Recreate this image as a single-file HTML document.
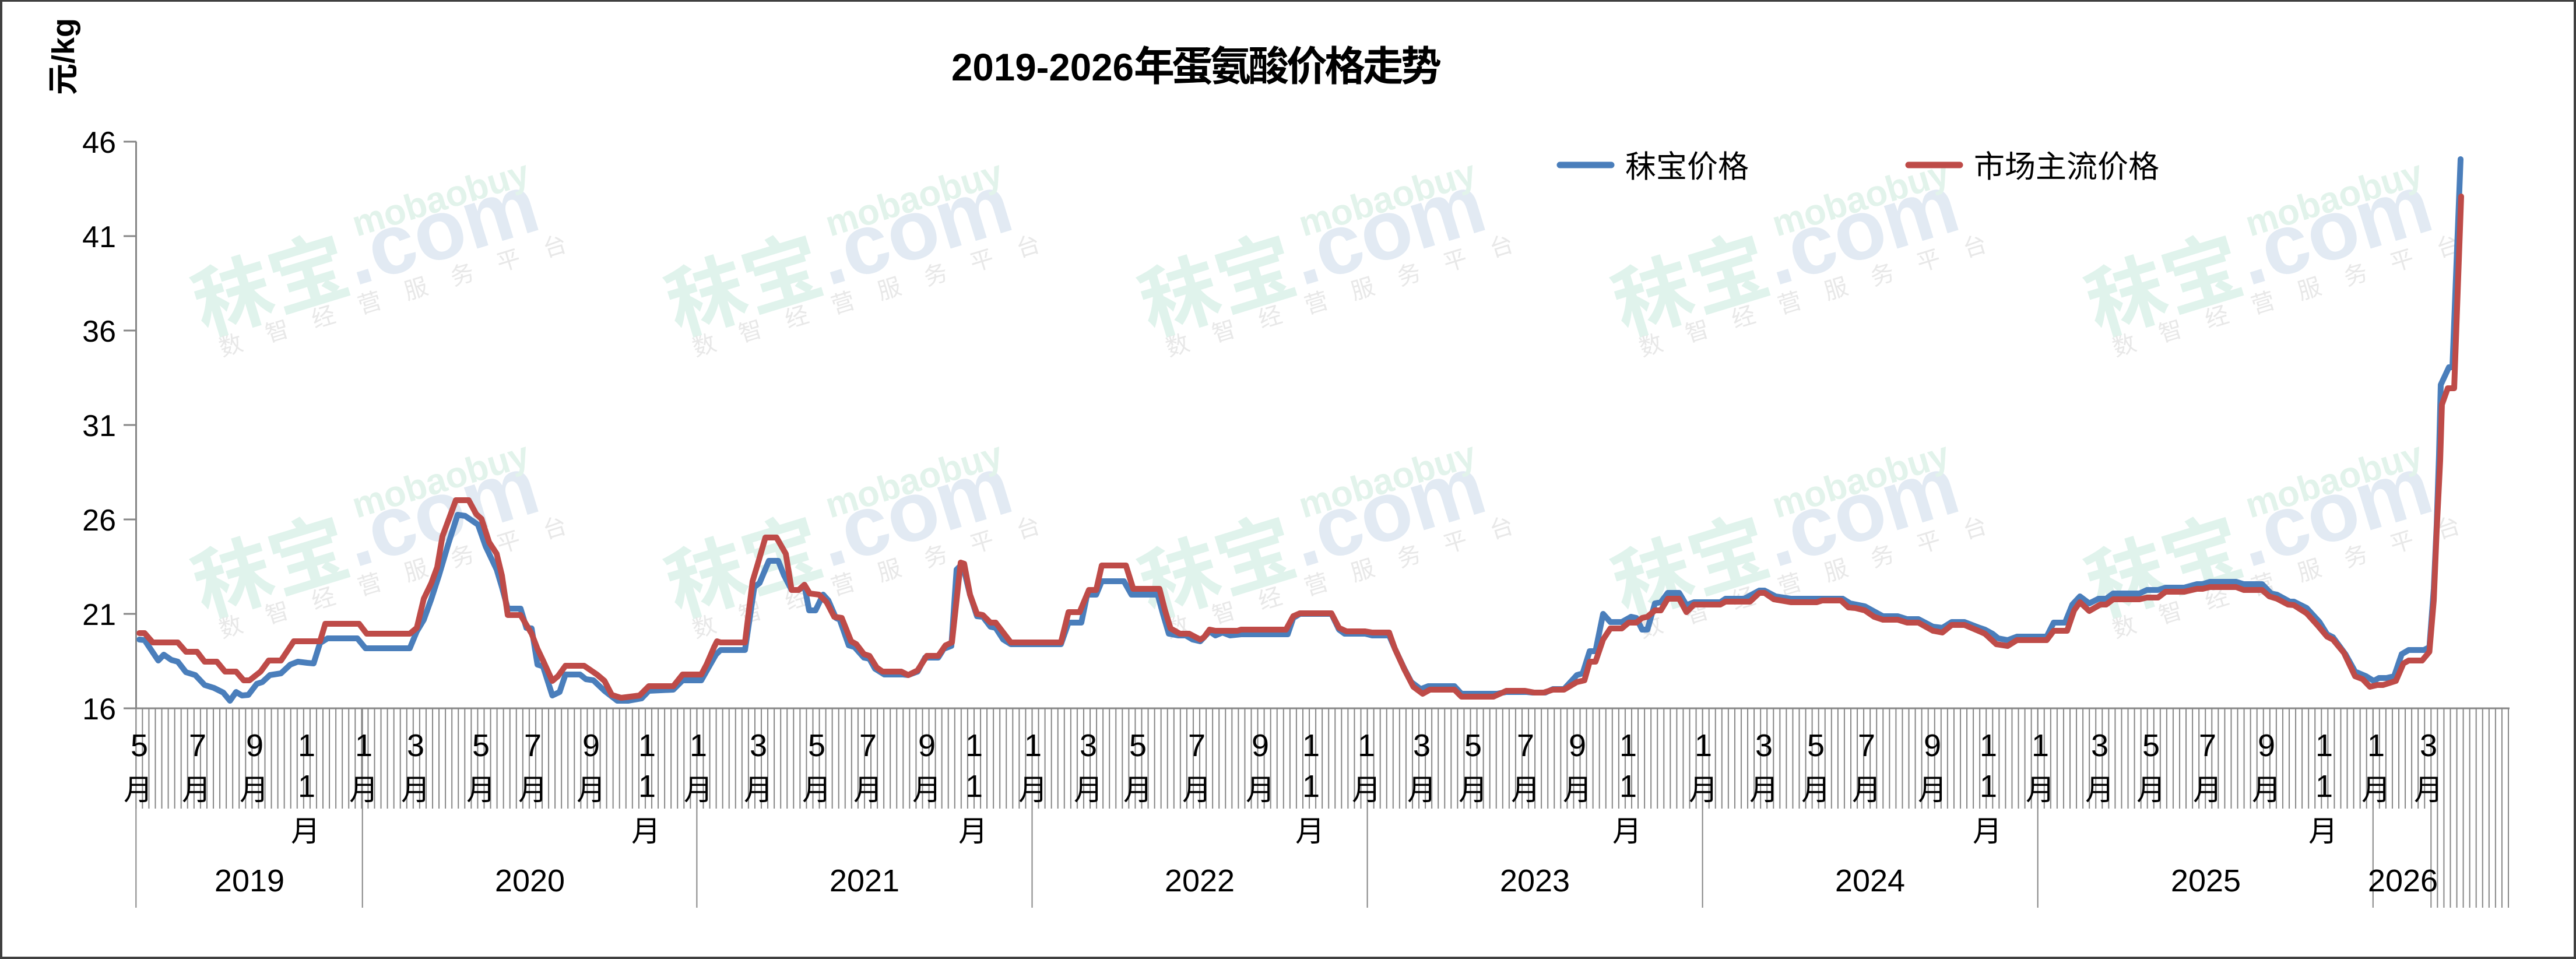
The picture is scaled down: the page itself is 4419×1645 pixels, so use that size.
<!DOCTYPE html>
<html><head><meta charset="utf-8"><style>
html,body{margin:0;padding:0;background:#fff;}
svg{display:block;}
</style></head><body>
<svg xmlns="http://www.w3.org/2000/svg" width="4419" height="1645" viewBox="0 0 4419 1645">
<defs>
<pattern id="h" x="232.3" y="0" width="11.059" height="10" patternUnits="userSpaceOnUse"><rect x="0" y="0" width="2" height="10" fill="#868686"/></pattern>
</defs>
<rect x="0" y="0" width="4419" height="1645" fill="#fff"/>
<!-- watermarks -->
<g font-family="'Liberation Sans','Noto Sans CJK SC',sans-serif">
<g transform="translate(350,575) rotate(-17)"><text x="0" y="0" font-size="135" font-weight="bold" fill="#e0f3ec">秣宝</text><text x="272" y="-5" font-size="145" font-weight="bold" fill="#e2eaf3">.com</text><text x="300" y="-85" font-size="62" font-weight="bold" fill="#e2f3eb">mobaobuy</text><text x="19" y="44" font-size="40" letter-spacing="43" fill="#e8e8e8">数智经营服务平台</text></g>
<g transform="translate(1162,575) rotate(-17)"><text x="0" y="0" font-size="135" font-weight="bold" fill="#e0f3ec">秣宝</text><text x="272" y="-5" font-size="145" font-weight="bold" fill="#e2eaf3">.com</text><text x="300" y="-85" font-size="62" font-weight="bold" fill="#e2f3eb">mobaobuy</text><text x="19" y="44" font-size="40" letter-spacing="43" fill="#e8e8e8">数智经营服务平台</text></g>
<g transform="translate(1974,575) rotate(-17)"><text x="0" y="0" font-size="135" font-weight="bold" fill="#e0f3ec">秣宝</text><text x="272" y="-5" font-size="145" font-weight="bold" fill="#e2eaf3">.com</text><text x="300" y="-85" font-size="62" font-weight="bold" fill="#e2f3eb">mobaobuy</text><text x="19" y="44" font-size="40" letter-spacing="43" fill="#e8e8e8">数智经营服务平台</text></g>
<g transform="translate(2786,575) rotate(-17)"><text x="0" y="0" font-size="135" font-weight="bold" fill="#e0f3ec">秣宝</text><text x="272" y="-5" font-size="145" font-weight="bold" fill="#e2eaf3">.com</text><text x="300" y="-85" font-size="62" font-weight="bold" fill="#e2f3eb">mobaobuy</text><text x="19" y="44" font-size="40" letter-spacing="43" fill="#e8e8e8">数智经营服务平台</text></g>
<g transform="translate(3598,575) rotate(-17)"><text x="0" y="0" font-size="135" font-weight="bold" fill="#e0f3ec">秣宝</text><text x="272" y="-5" font-size="145" font-weight="bold" fill="#e2eaf3">.com</text><text x="300" y="-85" font-size="62" font-weight="bold" fill="#e2f3eb">mobaobuy</text><text x="19" y="44" font-size="40" letter-spacing="43" fill="#e8e8e8">数智经营服务平台</text></g>
<g transform="translate(350,1058) rotate(-17)"><text x="0" y="0" font-size="135" font-weight="bold" fill="#e0f3ec">秣宝</text><text x="272" y="-5" font-size="145" font-weight="bold" fill="#e2eaf3">.com</text><text x="300" y="-85" font-size="62" font-weight="bold" fill="#e2f3eb">mobaobuy</text><text x="19" y="44" font-size="40" letter-spacing="43" fill="#e8e8e8">数智经营服务平台</text></g>
<g transform="translate(1162,1058) rotate(-17)"><text x="0" y="0" font-size="135" font-weight="bold" fill="#e0f3ec">秣宝</text><text x="272" y="-5" font-size="145" font-weight="bold" fill="#e2eaf3">.com</text><text x="300" y="-85" font-size="62" font-weight="bold" fill="#e2f3eb">mobaobuy</text><text x="19" y="44" font-size="40" letter-spacing="43" fill="#e8e8e8">数智经营服务平台</text></g>
<g transform="translate(1974,1058) rotate(-17)"><text x="0" y="0" font-size="135" font-weight="bold" fill="#e0f3ec">秣宝</text><text x="272" y="-5" font-size="145" font-weight="bold" fill="#e2eaf3">.com</text><text x="300" y="-85" font-size="62" font-weight="bold" fill="#e2f3eb">mobaobuy</text><text x="19" y="44" font-size="40" letter-spacing="43" fill="#e8e8e8">数智经营服务平台</text></g>
<g transform="translate(2786,1058) rotate(-17)"><text x="0" y="0" font-size="135" font-weight="bold" fill="#e0f3ec">秣宝</text><text x="272" y="-5" font-size="145" font-weight="bold" fill="#e2eaf3">.com</text><text x="300" y="-85" font-size="62" font-weight="bold" fill="#e2f3eb">mobaobuy</text><text x="19" y="44" font-size="40" letter-spacing="43" fill="#e8e8e8">数智经营服务平台</text></g>
<g transform="translate(3598,1058) rotate(-17)"><text x="0" y="0" font-size="135" font-weight="bold" fill="#e0f3ec">秣宝</text><text x="272" y="-5" font-size="145" font-weight="bold" fill="#e2eaf3">.com</text><text x="300" y="-85" font-size="62" font-weight="bold" fill="#e2f3eb">mobaobuy</text><text x="19" y="44" font-size="40" letter-spacing="43" fill="#e8e8e8">数智经营服务平台</text></g>
</g>

<!-- title -->
<text x="1632" y="138" font-family="'Liberation Sans','Noto Sans CJK SC',sans-serif" font-weight="bold" fill="#000"><tspan font-size="66" textLength="313" lengthAdjust="spacingAndGlyphs">2019-2026</tspan><tspan font-family="'Noto Sans CJK SC',sans-serif" font-size="70" textLength="528" lengthAdjust="spacing">年蛋氨酸价格走势</tspan></text>

<!-- y axis title -->
<text transform="translate(127,163) rotate(-90)" x="0" y="0" font-family="'Liberation Sans','Noto Sans CJK SC',sans-serif" font-weight="bold" font-size="54" fill="#000">元/kg</text>

<!-- y axis -->
<g stroke="#868686" fill="none">
<line x1="233.5" y1="243" x2="233.5" y2="1215" stroke-width="3"/>
<line x1="212" y1="243" x2="234" y2="243" stroke-width="3"/>
<line x1="212" y1="405" x2="234" y2="405" stroke-width="3"/>
<line x1="212" y1="567" x2="234" y2="567" stroke-width="3"/>
<line x1="212" y1="729" x2="234" y2="729" stroke-width="3"/>
<line x1="212" y1="891" x2="234" y2="891" stroke-width="3"/>
<line x1="212" y1="1053" x2="234" y2="1053" stroke-width="3"/>
</g>
<g font-family="'Liberation Sans',sans-serif" font-size="52" fill="#000" text-anchor="end">
<text x="199" y="262">46</text>
<text x="199" y="424">41</text>
<text x="199" y="586">36</text>
<text x="199" y="748">31</text>
<text x="199" y="910">26</text>
<text x="199" y="1072">21</text>
<text x="199" y="1234">16</text>
</g>

<!-- x axis hatch -->
<rect x="232.3" y="1215" width="4073" height="172" fill="url(#h)"/>
<rect x="4169" y="1387" width="136.5" height="170" fill="url(#h)"/>
<g stroke="#868686" stroke-width="2">
<line x1="233.3" y1="1215" x2="233.3" y2="1557"/>
<line x1="621.7" y1="1215" x2="621.7" y2="1557"/>
<line x1="1195.4" y1="1215" x2="1195.4" y2="1557"/>
<line x1="1770.5" y1="1215" x2="1770.5" y2="1557"/>
<line x1="2345.6" y1="1215" x2="2345.6" y2="1557"/>
<line x1="2920.6" y1="1215" x2="2920.6" y2="1557"/>
<line x1="3495.7" y1="1215" x2="3495.7" y2="1557"/>
<line x1="4070.8" y1="1215" x2="4070.8" y2="1557"/>
</g>
<line x1="212" y1="1215" x2="4305" y2="1215" stroke="#868686" stroke-width="3"/>

<!-- month labels -->
<g font-family="'Liberation Sans',sans-serif" font-size="54" fill="#000" text-anchor="middle">
<text x="239" y="1297">5</text><text x="339" y="1297">7</text><text x="437" y="1297">9</text><text x="526" y="1297">1</text><text x="526" y="1367">1</text>
<text x="624" y="1297">1</text><text x="713" y="1297">3</text><text x="825" y="1297">5</text><text x="914" y="1297">7</text><text x="1014" y="1297">9</text><text x="1110" y="1297">1</text><text x="1110" y="1367">1</text>
<text x="1198" y="1297">1</text><text x="1301" y="1297">3</text><text x="1401" y="1297">5</text><text x="1489" y="1297">7</text><text x="1590" y="1297">9</text><text x="1671" y="1297">1</text><text x="1671" y="1367">1</text>
<text x="1772" y="1297">1</text><text x="1867" y="1297">3</text><text x="1952" y="1297">5</text><text x="2053" y="1297">7</text><text x="2162" y="1297">9</text><text x="2249" y="1297">1</text><text x="2249" y="1367">1</text>
<text x="2344" y="1297">1</text><text x="2439" y="1297">3</text><text x="2527" y="1297">5</text><text x="2617" y="1297">7</text><text x="2706" y="1297">9</text><text x="2793" y="1297">1</text><text x="2793" y="1367">1</text>
<text x="2922" y="1297">1</text><text x="3026" y="1297">3</text><text x="3115" y="1297">5</text><text x="3202" y="1297">7</text><text x="3315" y="1297">9</text><text x="3411" y="1297">1</text><text x="3411" y="1367">1</text>
<text x="3500" y="1297">1</text><text x="3602" y="1297">3</text><text x="3690" y="1297">5</text><text x="3787" y="1297">7</text><text x="3888" y="1297">9</text><text x="3987" y="1297">1</text><text x="3987" y="1367">1</text>
<text x="4076" y="1297">1</text><text x="4166" y="1297">3</text>
</g>
<g font-family="'Noto Sans CJK SC',sans-serif" font-size="50" fill="#000" text-anchor="middle">
<text x="237" y="1372">月</text><text x="337" y="1372">月</text><text x="436" y="1372">月</text><text x="524" y="1443">月</text>
<text x="624" y="1372">月</text><text x="713" y="1372">月</text><text x="825" y="1372">月</text><text x="914" y="1372">月</text><text x="1014" y="1372">月</text><text x="1108" y="1443">月</text>
<text x="1198" y="1372">月</text><text x="1301" y="1372">月</text><text x="1401" y="1372">月</text><text x="1489" y="1372">月</text><text x="1590" y="1372">月</text><text x="1669" y="1443">月</text>
<text x="1772" y="1372">月</text><text x="1867" y="1372">月</text><text x="1952" y="1372">月</text><text x="2053" y="1372">月</text><text x="2162" y="1372">月</text><text x="2247" y="1443">月</text>
<text x="2344" y="1372">月</text><text x="2439" y="1372">月</text><text x="2527" y="1372">月</text><text x="2617" y="1372">月</text><text x="2706" y="1372">月</text><text x="2791" y="1443">月</text>
<text x="2922" y="1372">月</text><text x="3026" y="1372">月</text><text x="3115" y="1372">月</text><text x="3202" y="1372">月</text><text x="3315" y="1372">月</text><text x="3409" y="1443">月</text>
<text x="3500" y="1372">月</text><text x="3602" y="1372">月</text><text x="3690" y="1372">月</text><text x="3787" y="1372">月</text><text x="3888" y="1372">月</text><text x="3985" y="1443">月</text>
<text x="4076" y="1372">月</text><text x="4166" y="1372">月</text>
</g>
<g font-family="'Liberation Sans',sans-serif" font-size="54" fill="#000" text-anchor="middle">
<text x="428" y="1529">2019</text><text x="909" y="1529">2020</text><text x="1483" y="1529">2021</text><text x="2058" y="1529">2022</text><text x="2633" y="1529">2023</text><text x="3208" y="1529">2024</text><text x="3784" y="1529">2025</text><text x="4122" y="1529">2026</text>
</g>

<!-- series -->
<polyline fill="none" stroke="#4a7ebb" stroke-width="10" stroke-linejoin="round" stroke-linecap="round" points="239,1097 248,1098 271.5,1133 281,1123 294,1132 305,1135 319,1153 335,1158 351,1175 367,1180 383,1188 394.5,1202 405,1187 415,1193 426,1192 440.5,1173 450,1170 463,1158 482,1155 498,1140 511,1135 527,1137 538,1138 549,1103 562,1095 613,1095 627,1112 703,1112 715,1083 727,1063 740,1027 753,987 769,933 785,883 798,885 820,900 833,937 852,977 861,1007 871,1044 893,1044 903,1077 912,1078 922,1140 931.5,1143 947.5,1193 960,1187 970,1157 995,1157 1005,1165 1018,1167 1037,1185 1059,1202 1078,1202 1100.5,1198 1113,1185 1155,1183 1171,1167 1203,1167 1228,1123 1236,1115 1278,1115 1294,1007 1303,1000 1319,962 1335,962 1345,987 1358,1012 1370,1012 1380,1005 1388,1047 1399,1047 1412,1020 1421,1030 1434,1060 1440.5,1063 1456,1107 1466,1110 1482,1128 1491.5,1130 1501,1147 1517,1157 1549,1157 1558,1158 1574,1152 1587,1128 1609.5,1128 1619,1113 1632,1108 1641,977 1651,967 1664,1020 1676,1057 1686,1058 1699,1075 1708,1077 1721,1097 1734,1105 1820,1105 1833,1068 1855,1068 1865,1020 1880.5,1020 1890,997 1928,997 1941,1020 1986,1020 1995,1053 2005,1087 2021,1090 2034,1090 2046,1097 2059,1100 2075,1083 2085,1090 2097,1085 2110,1090 2129,1088 2209,1088 2218.5,1060 2230,1053 2284,1053 2297,1080 2306.5,1087 2342,1087 2354,1090 2383,1090 2393,1113 2409,1147 2421,1170 2437,1182 2450,1177 2495,1177 2507,1190 2568,1190 2584,1187 2619,1187 2629,1188 2651,1188 2664,1182 2683,1182 2705,1158 2715,1155 2727,1117 2737,1117 2750,1053 2762.5,1067 2782,1067 2798,1058 2807,1060 2817,1080 2826,1080 2839,1035 2849,1033 2861,1017 2880.5,1017 2893,1038 2906,1033 2951,1033 2960,1027 2992,1027 3018,1013 3027,1013 3046,1023 3072,1027 3161,1027 3174,1035 3199,1040 3230,1057 3255.5,1057 3271.5,1062 3291,1062 3316,1075 3332,1077 3348,1067 3370,1067 3396,1077 3405,1080 3418,1087 3428,1095 3444,1098 3460,1092 3511,1092 3523,1068 3542.5,1068 3555,1037 3568,1023 3584,1035 3600,1027 3613,1027 3625,1018 3670,1018 3683,1012 3702,1012 3715,1008 3747,1008 3769,1002 3778.5,1002 3791,998 3836,998 3849,1002 3880.5,1002 3896,1018 3906,1020 3928,1032 3935,1032 3957,1043 3979,1067 3992,1088 4002,1093 4024,1123 4040,1152 4059,1160 4072,1168 4081,1163 4094,1163 4107,1160 4120,1122 4132,1115 4158,1115 4167.5,1110 4175,1010 4180,900 4184,780 4187,660 4201,630 4207,630 4221,273"/>
<polyline fill="none" stroke="#be4b48" stroke-width="10" stroke-linejoin="round" stroke-linecap="round" points="239,1086 248,1086 262,1102 305,1102 319,1118 338,1118 351,1135 372,1135 386,1152 405,1152 418,1167 428,1167 447,1152 461,1133 482,1133 504,1100 549,1100 558,1070 616,1070 629,1087 703,1087 715,1077 727,1027 740,1000 750,973 759,920 782,858 804,858 817,882 826,890 839,930 852,950 861,987 871,1055 893,1055 912,1087 922,1113 931.5,1133 947.5,1168 957,1160 970,1142 1002,1142 1024,1157 1037,1168 1049.5,1192 1065.5,1197 1097,1193 1113,1177 1155,1177 1171,1157 1203,1157 1212,1140 1225,1110 1230,1100 1236,1102 1278,1102 1291,997 1300,967 1313,922 1332,922 1348,950 1358,1012 1370,1012 1380,1003 1389,1018 1405,1020 1418,1033 1431,1058 1444,1060 1460,1100 1469,1105 1482,1122 1491.5,1125 1504,1145 1514,1152 1546,1152 1558,1158 1574,1150 1590,1125 1609.5,1125 1622,1107 1633,1102 1648,965 1654,967 1664,1020 1676,1053 1686,1055 1699,1068 1708,1068 1734,1102 1820,1102 1833,1050 1852,1050 1868,1012 1880.5,1012 1890,970 1931.5,970 1944,1010 1989,1010 1998.5,1047 2008,1078 2024,1087 2040,1087 2059,1097 2065.5,1093 2075,1080 2085,1082 2123,1082 2129,1080 2206,1080 2218.5,1057 2230,1052 2284,1052 2297,1077 2310,1083 2342,1083 2354,1085 2383,1085 2393,1113 2409,1148 2424.5,1178 2440.5,1190 2453,1183 2495,1183 2507,1195 2562,1195 2584,1185 2616,1185 2632,1188 2648,1188 2664,1183 2683,1183 2705,1170 2718,1167 2727,1135 2737,1135 2750,1097 2762.5,1078 2782,1078 2794,1068 2807,1068 2817,1060 2826,1058 2839,1047 2849,1047 2861,1027 2880.5,1027 2893,1050 2906,1037 2951,1037 2960,1032 3002,1032 3018,1017 3027,1017 3043,1028 3072,1033 3116.5,1033 3126,1030 3158,1030 3171,1042 3183,1043 3199,1047 3215,1058 3230,1063 3255.5,1063 3271.5,1068 3291,1068 3316,1082 3332,1085 3348,1072 3370,1072 3396,1083 3405,1087 3424.5,1105 3444,1108 3460,1098 3511,1098 3523,1082 3546,1082 3558,1047 3568,1033 3584,1048 3603,1037 3613,1037 3625,1028 3670,1028 3683,1025 3702,1025 3715,1015 3747,1015 3769,1010 3778.5,1010 3791,1007 3836,1007 3849,1012 3880.5,1012 3893,1023 3906,1027 3925,1037 3935,1038 3957,1052 3976,1073 3992,1092 4002,1097 4021,1120 4040,1160 4053,1165 4065.5,1178 4078,1175 4088,1175 4110,1168 4123,1138 4132,1133 4155,1133 4167.5,1118 4175,1030 4180,910 4186,790 4189,694 4199,666 4210,666 4222,337"/>

<!-- legend -->
<line x1="2676" y1="283" x2="2764" y2="283" stroke="#4a7ebb" stroke-width="11" stroke-linecap="round"/>
<text x="2788" y="304" font-family="'Noto Sans CJK SC',sans-serif" font-size="53" fill="#000">秣宝价格</text>
<line x1="3274" y1="283" x2="3362" y2="283" stroke="#be4b48" stroke-width="11" stroke-linecap="round"/>
<text x="3386" y="304" font-family="'Noto Sans CJK SC',sans-serif" font-size="53" fill="#000">市场主流价格</text>

<!-- border -->
<rect x="0" y="0" width="4419" height="3" fill="#404040"/>
<rect x="0" y="0" width="4" height="1645" fill="#404040"/>
<rect x="4415" y="0" width="4" height="1645" fill="#404040"/>
<rect x="0" y="1641" width="4419" height="4" fill="#404040"/>
</svg>
</body></html>
